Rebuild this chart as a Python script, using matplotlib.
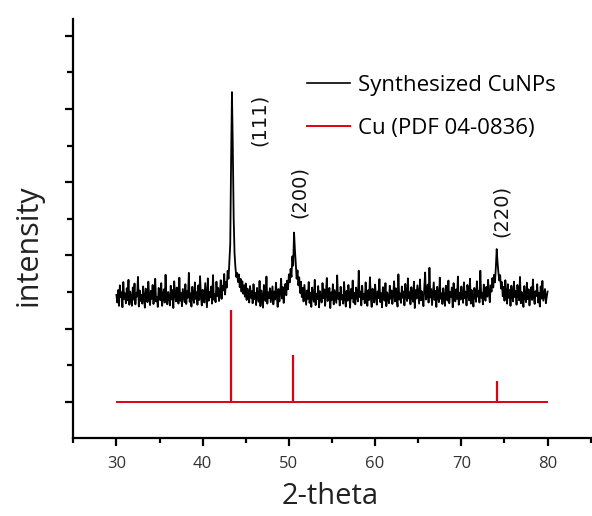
import numpy as np
import matplotlib
matplotlib.use("Agg")
import matplotlib.pyplot as plt
from matplotlib.ticker import MultipleLocator, NullFormatter
from matplotlib.lines import Line2D

# measured XRD pattern, 2-theta from 30.0 to 80.0 in 0.1 steps (counts)
two_theta_start = 30.0
two_theta_step = 0.1
cunp_counts = [
    392, 371, 405, 362, 418, 386, 399, 358, 427, 381, 396, 369, 410, 377, 433, 365, 401, 384, 362, 412,  # 30
    379, 423, 366, 398, 387, 441, 360, 404, 375, 392, 368, 415, 383, 357, 409, 396, 372, 428, 389, 364,  # 32
    403, 381, 419, 367, 395, 436, 374, 386, 359, 411, 398, 377, 424, 362, 390, 407, 371, 447, 383, 366,  # 34
    400, 388, 363, 417, 379, 405, 356, 429, 393, 374, 412, 385, 368, 439, 376, 397, 361, 408, 391, 372,  # 36
    421, 367, 402, 384, 452, 373, 396, 360, 414, 387, 370, 426, 381, 399, 365, 418, 378, 443, 389, 363,  # 38
    406, 382, 371, 424, 393, 358, 437, 376, 400, 385, 415, 368, 446, 379, 394, 372, 428, 389, 411, 375,  # 40
    398, 432, 381, 416, 404, 449, 393, 427, 412, 458, 436, 482, 530, 760, 946, 790, 600, 505, 468, 441,  # 42
    452, 427, 448, 413, 436, 401, 429, 395, 418, 387, 423, 378, 409, 392, 371, 416, 384, 402, 369, 421,  # 44
    380, 397, 364, 411, 389, 373, 430, 361, 404, 386, 357, 419, 392, 375, 442, 368, 399, 383, 410, 372,  # 46
    394, 415, 366, 401, 379, 425, 388, 359, 408, 374, 397, 436, 382, 413, 370, 403, 422, 391, 431, 407,  # 48
    448, 426, 463, 441, 497, 472, 562, 515, 478, 436, 459, 418, 440, 397, 428, 386, 411, 374, 419, 392,  # 50
    365, 404, 381, 427, 370, 398, 359, 412, 387, 373, 433, 364, 395, 380, 416, 358, 402, 389, 371, 424,  # 52
    383, 407, 362, 396, 438, 375, 390, 411, 356, 399, 378, 421, 366, 405, 387, 370, 445, 381, 397, 363,  # 54
    414, 379, 392, 368, 427, 385, 360, 403, 376, 419, 394, 357, 408, 382, 431, 371, 398, 366, 412, 389,  # 56
    374, 458, 386, 401, 363, 417, 380, 395, 369, 426, 391, 362, 405, 378, 440, 384, 359, 409, 393, 371,  # 58
    420, 388, 365, 402, 383, 435, 372, 397, 358, 413, 390, 376, 424, 361, 399, 385, 369, 417, 381, 404,  # 60
    367, 392, 429, 374, 410, 387, 360, 448, 379, 396, 370, 415, 384, 401, 363, 422, 390, 375, 437, 382,  # 62
    399, 366, 413, 389, 373, 428, 356, 405, 382, 418, 394, 368, 434, 377, 402, 386, 361, 411, 453, 379,  # 64
    392, 420, 371, 466, 385, 408, 364, 397, 426, 378, 403, 359, 414, 388, 372, 439, 381, 396, 367, 410,  # 66
    384, 362, 417, 393, 376, 431, 369, 400, 386, 412, 358, 424, 390, 374, 407, 381, 442, 365, 398, 379,  # 68
    415, 388, 370, 426, 383, 401, 363, 419, 392, 377, 436, 368, 405, 385, 360, 411, 396, 373, 429, 387,  # 70
    403, 371, 458, 384, 398, 366, 420, 390, 376, 414, 387, 433, 396, 372, 418, 401, 438, 412, 447, 426,  # 72
    468, 517, 480, 452, 431, 446, 409, 427, 388, 414, 376, 432, 395, 368, 421, 384, 405, 362, 417, 391,  # 74
    374, 428, 386, 403, 365, 419, 392, 377, 441, 369, 400, 384, 359, 416, 388, 372, 425, 380, 407, 363,  # 76
    396, 413, 378, 434, 385, 367, 402, 389, 421, 371, 398, 360, 415, 382, 430, 376, 393, 408, 369, 387,  # 78
    401,
]

# Cu reference card (PDF 04-0836), drawn offset below the pattern
ref_positions = [43.3, 50.43, 74.13]
ref_tops = [351, 228, 157]
ref_base = 100
ref_range = [30, 80]

# peak labels
hkl_labels = ["(111)", "(200)", "(220)"]
hkl_x = [46.55, 51.25, 74.6]
hkl_y = [871, 674, 620]

two_theta = two_theta_start + two_theta_step * np.arange(len(cunp_counts))

fig = plt.figure(figsize=(5.92, 5.16), dpi=100)
ax = fig.add_axes([0.1238, 0.1506, 0.8762, 0.812])

red = "#e00010"
ax.plot(two_theta, cunp_counts, color="black", lw=1.3)
ax.hlines(ref_base, ref_range[0], ref_range[1], color=red, lw=1.4)
ax.vlines(ref_positions, ref_base, ref_tops, color=red, lw=1.6)

for lab, x, y in zip(hkl_labels, hkl_x, hkl_y):
    ax.text(x, y, lab, rotation=90, ha="center", va="center",
            fontsize=14, family="DejaVu Sans", color="#111111")

ax.set_xlim(25, 85.15)
ax.set_ylim(0, 1145)

for s in ["top", "right"]:
    ax.spines[s].set_visible(False)
for s in ["left", "bottom"]:
    ax.spines[s].set_linewidth(1.6)

ax.xaxis.set_major_locator(MultipleLocator(10))
ax.xaxis.set_minor_locator(MultipleLocator(5))
ax.set_yticks(np.arange(100, 1200, 200))
ax.set_yticks(np.arange(200, 1100, 200), minor=True)
ax.yaxis.set_major_formatter(NullFormatter())
ax.tick_params(axis="x", which="major", length=6, width=1.6, direction="out",
               labelsize=12, labelcolor="#333333", pad=7)
ax.tick_params(axis="x", which="minor", length=3.5, width=1.6, direction="out")
ax.tick_params(axis="y", which="major", length=6, width=1.6, direction="out")
ax.tick_params(axis="y", which="minor", length=4, width=1.6, direction="out")
for lab in ax.get_xticklabels():
    lab.set_family("Open Sans")

ax.set_xlabel("2-theta", fontsize=21, family="Open Sans", color="#222222", va="center")
ax.xaxis.set_label_coords(0.495, -0.14)
ax.set_ylabel("intensity", fontsize=22, family="Open Sans", color="#222222", va="center")
ax.yaxis.set_label_coords(-0.087, 0.461)

handles = [Line2D([], [], color="black", lw=1.2), Line2D([], [], color=red, lw=1.4)]
ax.legend(handles, ["Synthesized CuNPs", "Cu (PDF 04-0836)"], loc="upper left",
          bbox_to_anchor=(0.4506, 0.868), frameon=False, borderpad=0,
          borderaxespad=0, handlelength=1.95, handletextpad=0.35, labelspacing=1.02,
          prop={"family": "Open Sans", "size": 16})

fig.savefig("out.png", dpi=100)
